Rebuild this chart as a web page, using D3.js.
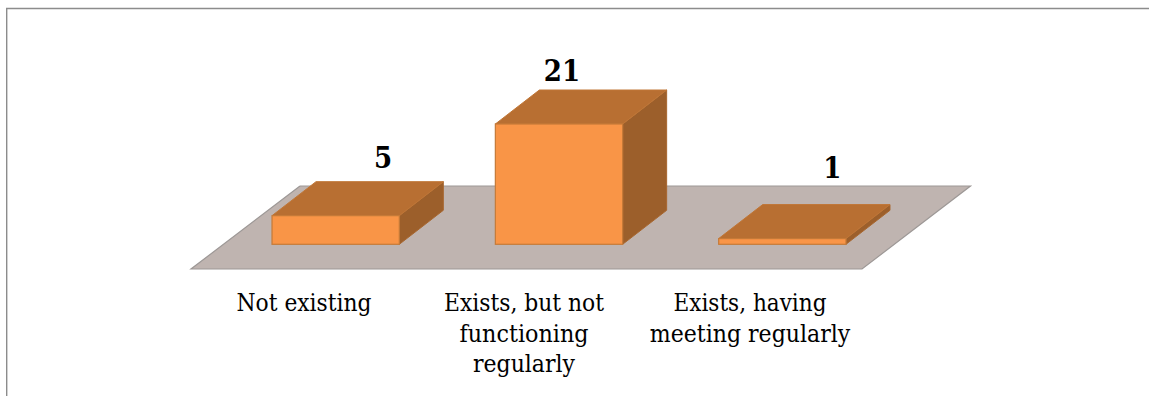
<!DOCTYPE html>
<html><head><meta charset="utf-8">
<script src="https://cdn.jsdelivr.net/npm/d3@7/dist/d3.min.js"></script>
<style>html,body{margin:0;padding:0;background:#fff;overflow:hidden}svg{display:block}</style>
</head><body><div id="c"></div>
<script>
const categories = ["Not existing", "Exists, but not functioning regularly", "Exists, having meeting regularly"];
const values = [5, 21, 1];
const categoryLines = [["Not existing"], ["Exists, but not", "functioning", "regularly"], ["Exists, having", "meeting regularly"]];
const labelShiftX = [47.5, 3, 50];
const labelBaselineY = [168, 80.5, 178];
const catCenterX = [304, 524, 750];
const catWidths = [[135], [160, 129, 102], [153, 200.5]];

const W = 1149, H = 396;
const dx = 44, dy = -34;
const x = d3.scaleBand().domain(categories).range([224, 894]).paddingInner(0.43).paddingOuter(0.215);
const y = d3.scaleLinear().domain([0, 21]).range([244.3, 124]);
const line = d3.line();
const svg = d3.select("#c").append("svg").attr("width", W).attr("height", H);

svg.append("path").attr("d", "M6.7,396V8.5H1149").attr("fill", "none").attr("stroke", "#8c8c8c").attr("stroke-width", 1.4);

// floor
svg.append("path").attr("d", line([[191,269],[862,269],[970.5,186],[300,186]]) + "Z")
  .attr("fill", "#bfb4b0");
svg.append("path").attr("d", line([[300,186],[191,269],[862,269],[970.5,186],[300,186]]))
  .attr("fill", "none").attr("stroke", "#9d9896").attr("stroke-width", 1.2);

const g = svg.selectAll("g.bar").data(categories).join("g").attr("class", "bar");
const stroke = "#c57a38";
g.each(function (c, i) {
  const s = d3.select(this), x0 = x(c), x1 = x0 + x.bandwidth(), yb = y(0), yt = y(values[i]);
  s.append("path").attr("d", line([[x1,yb],[x1+dx,yb+dy],[x1+dx,yt+dy],[x1,yt]]) + "Z")
    .attr("fill", "#9c5f2b").attr("stroke", "#a8672f").attr("stroke-width", 1);
  s.append("path").attr("d", line([[x0,yt],[x0+dx,yt+dy],[x1+dx,yt+dy],[x1,yt]]) + "Z")
    .attr("fill", "#b86f32").attr("stroke", "#c07636").attr("stroke-width", 1);
  s.append("rect").attr("x", x0).attr("y", yt).attr("width", x.bandwidth()).attr("height", yb - yt)
    .attr("fill", "#f99547").attr("stroke", stroke).attr("stroke-width", 1.2);
  s.append("text").attr("x", x0 + x.bandwidth() / 2 + labelShiftX[i]).attr("y", labelBaselineY[i])
    .attr("text-anchor", "middle").attr("font-family", "'DejaVu Serif Condensed','DejaVu Serif'").attr("font-weight", "bold")
    .attr("font-size", 29).attr("fill", "#000").text(values[i]);
});

const catText = svg.append("g").attr("font-family", "'DejaVu Serif Condensed','DejaVu Serif'").attr("font-size", 24).attr("fill", "#000");
categoryLines.forEach((lines, i) => {
  lines.forEach((t, j) => {
    catText.append("text").attr("x", catCenterX[i]).attr("y", 311 + j * 30.5)
      .attr("text-anchor", "middle").attr("textLength", catWidths[i][j]).attr("lengthAdjust", "spacingAndGlyphs").text(t);
  });
});
</script></body></html>
